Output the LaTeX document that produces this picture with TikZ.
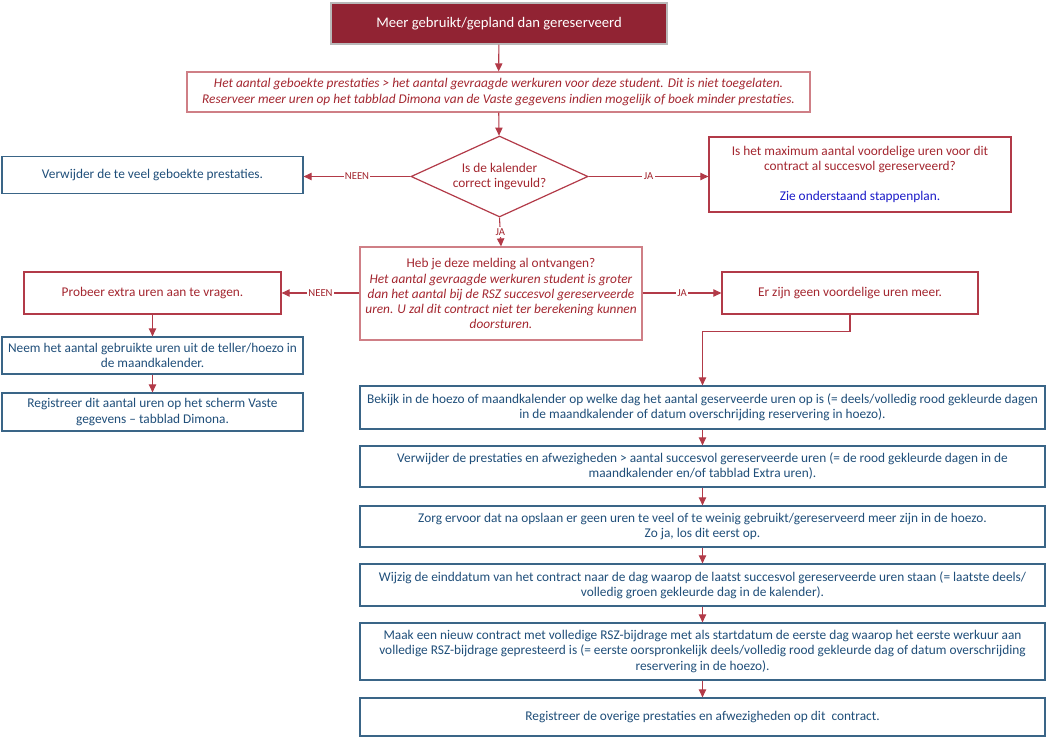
\documentclass[tikz,border=0pt]{standalone}
\usepackage{fontspec}
\setmainfont{Carlito}
\usetikzlibrary{arrows.meta,positioning,shapes.geometric}
\definecolor{wine}{HTML}{912333}
\definecolor{redline}{HTML}{B23A48}
\definecolor{rosered}{HTML}{CF7F86}
\definecolor{redtext}{HTML}{A3262F}
\definecolor{blueline}{HTML}{3A6587}
\definecolor{bluetext}{HTML}{1F4E79}
\definecolor{linkblue}{HTML}{1A1AC8}

\begin{document}
\begin{tikzpicture}[
  x=0.75pt,y=-0.75pt,
  b/.style={draw,line width=0.9pt,align=center,inner sep=2pt,font=\fontsize{10}{11.3}\selectfont},
  redbox/.style={b,draw=redline,text=redtext},
  pinkbox/.style={b,draw=rosered,text=redtext},
  bluebox/.style={b,draw=blueline,text=bluetext},
  stepbox/.style={bluebox,minimum width=513.75pt},
  arr/.style={-{Triangle[length=6pt,width=5.5pt]},draw=redline,line width=0.8pt},
  lbl/.style={fill=white,text=redtext,inner sep=1pt,font=\fontsize{8}{9}\selectfont}
]
\useasboundingbox (0,0) rectangle (1050,738);
\node[b,fill=wine,draw=gray!55,text=white,minimum width=252pt,minimum height=30.75pt,font=\fontsize{11}{13}\selectfont] (top) at (499,23.5) {Meer gebruikt/gepland dan gereserveerd};
\node[pinkbox,minimum width=467.25pt,minimum height=30pt] (warn) at (498.5,92) {\textit{Het aantal geboekte prestaties > het aantal gevraagde werkuren voor deze student. Dit is niet toegelaten.}\\\textit{Reserveer meer uren op het tabblad Dimona van de Vaste gegevens indien mogelijk of boek minder prestaties.}};
\node[diamond,aspect=2.2,draw=redline,line width=0.9pt,text=redtext,align=center,inner sep=0pt,minimum width=132.75pt,minimum height=60.75pt,font=\fontsize{10}{11.3}\selectfont] (dia) at (499.5,176.5) {Is de kalender\\correct ingevuld?};
\node[bluebox,minimum width=225.75pt,minimum height=27.75pt] (del) at (152.5,175) {Verwijder de te veel geboekte prestaties.};
\node[redbox,minimum width=226.5pt,minimum height=56.25pt] (max) at (860,174.5) {Is het maximum aantal voordelige uren voor dit\\contract al succesvol gereserveerd?\\[11.3pt]\textcolor{linkblue}{Zie onderstaand stappenplan.}};
\node[pinkbox,minimum width=211.5pt,minimum height=69.75pt] (msg) at (501,293.5) {Heb je deze melding al ontvangen?\\\textit{Het aantal gevraagde werkuren student is groter}\\\textit{dan het aantal bij de RSZ succesvol gereserveerde}\\\textit{uren. U zal dit contract niet ter berekening kunnen}\\\textit{doorsturen.}};
\node[redbox,minimum width=192.75pt,minimum height=31.5pt] (extra) at (152.5,293) {Probeer extra uren aan te vragen.};
\node[bluebox,minimum width=225.75pt,minimum height=27.75pt] (neem) at (152.5,355.5) {Neem het aantal gebruikte uren uit de teller/hoezo in\\de maandkalender.};
\node[bluebox,minimum width=225.75pt,minimum height=28.5pt] (dimona) at (152.5,412) {Registreer dit aantal uren op het scherm Vaste\\gegevens -- tabblad Dimona.};
\node[redbox,minimum width=192pt,minimum height=31.5pt] (geen) at (850,293) {Er zijn geen voordelige uren meer.};
\node[stepbox,minimum height=32.25pt] (s1) at (702.5,407.5) {Bekijk in de hoezo of maandkalender op welke dag het aantal geserveerde uren op is (= deels/volledig rood gekleurde dagen\\in de maandkalender of datum overschrijding reservering in hoezo).};
\node[stepbox,minimum height=30.75pt] (s2) at (702.5,466.5) {Verwijder de prestaties en afwezigheden > aantal succesvol gereserveerde uren (= de rood gekleurde dagen in de\\maandkalender en/of tabblad Extra uren).};
\node[stepbox,minimum height=30.75pt] (s3) at (702.5,526.5) {Zorg ervoor dat na opslaan er geen uren te veel of te weinig gebruikt/gereserveerd meer zijn in de hoezo.\\Zo ja, los dit eerst op.};
\node[stepbox,minimum height=31.5pt] (s4) at (702.5,585) {Wijzig de einddatum van het contract naar de dag waarop de laatst succesvol gereserveerde uren staan (= laatste deels/\\volledig groen gekleurde dag in de kalender).};
\node[stepbox,minimum height=42.75pt] (s5) at (702.5,651.5) {Maak een nieuw contract met volledige RSZ-bijdrage met als startdatum de eerste dag waarop het eerste werkuur aan\\volledige RSZ-bijdrage gepresteerd is (= eerste oorspronkelijk deels/volledig rood gekleurde dag of datum overschrijding\\reservering in de hoezo).};
\node[stepbox,minimum height=28.5pt] (s6) at (702.5,717) {Registreer de overige prestaties en afwezigheden op dit\ \ contract.};
\draw[arr] (top) -- (warn);
\draw[arr] (warn) -- (dia);
\draw[arr] (dia.west) -- node[lbl]{NEEN} (dia.west -| del.east);
\draw[arr] (dia.east) -- node[lbl]{JA} (dia.east -| max.west);
\draw[arr] (dia.south) -- node[lbl]{JA} (msg.north);
\draw[arr] (msg.west |- extra) -- node[lbl]{NEEN} (extra.east);
\draw[arr] (msg.east |- geen) -- node[lbl]{JA} (geen.west);
\draw[arr] (extra) -- (neem);
\draw[arr] (neem) -- (dimona);
\draw[arr] (geen.south) -- ++(0,17) -| (s1.north);
\foreach \a/\c in {s1/s2,s2/s3,s3/s4,s4/s5,s5/s6}
  \draw[arr] (\a) -- (\c);
\end{tikzpicture}
\end{document}
